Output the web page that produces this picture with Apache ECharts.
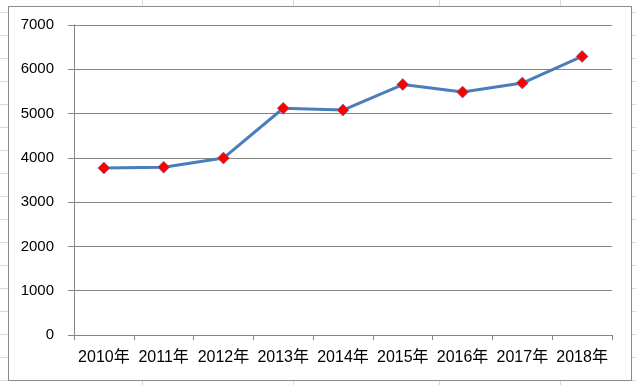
<!DOCTYPE html>
<html>
<head>
<meta charset="utf-8">
<script src="https://cdn.jsdelivr.net/npm/echarts@6/dist/echarts.min.js"></script>
<style>
  html, body { margin: 0; padding: 0; }
  body { width: 636px; height: 385px; position: relative; overflow: hidden; background: #fff; }
  #sheet {
    position: absolute; left: 0; top: 0; width: 636px; height: 385px;
    background-image:
      repeating-linear-gradient(to bottom, transparent 0px, transparent 12px, #d4dbe8 12px, #d4dbe8 13px, transparent 13px, transparent 23px);
  }
  .vl { position: absolute; top: 0; width: 1px; height: 385px; background: #d4dbe8; }
  #box {
    position: absolute; left: 8px; top: 6px; width: 622px; height: 373px;
    background: #fff; border: 1px solid #8c8c8c;
  }
  #chart { position: absolute; left: 0; top: 0; width: 636px; height: 385px; }
</style>
</head>
<body>
<div id="sheet"></div>
<div class="vl" style="left:142px"></div>
<div class="vl" style="left:293px"></div>
<div class="vl" style="left:439px"></div>
<div class="vl" style="left:560px"></div>
<div id="box"></div>
<div id="chart"></div>
<script>
const categories = ['2010年', '2011年', '2012年', '2013年', '2014年', '2015年', '2016年', '2017年', '2018年'];
const values = [3770, 3790, 3995, 5120, 5080, 5655, 5485, 5690, 6290];
const yTicks = { min: 0, max: 7000, interval: 1000 };

const chart = echarts.init(document.getElementById('chart'), null, { renderer: 'canvas' });
const fontFamily = "'Liberation Sans', 'Noto Sans CJK SC', sans-serif";
chart.setOption({
  animation: false,
  backgroundColor: 'transparent',
  grid: { left: 74, right: 24, top: 25, bottom: 50, containLabel: false },
  xAxis: {
    type: 'category',
    data: categories,
    boundaryGap: true,
    axisLine: { show: true, lineStyle: { color: '#868686', width: 1 } },
    axisTick: { show: true, length: 5, alignWithLabel: false, lineStyle: { color: '#868686' } },
    axisLabel: { color: '#000', fontSize: 16, fontFamily: fontFamily, margin: 15, interval: 0 },
    splitLine: { show: false }
  },
  yAxis: {
    type: 'value',
    min: yTicks.min, max: yTicks.max, interval: yTicks.interval,
    axisLine: { show: true, lineStyle: { color: '#868686', width: 1 } },
    axisTick: { show: true, length: 6, lineStyle: { color: '#868686' } },
    axisLabel: { color: '#000', fontSize: 15, fontFamily: fontFamily, margin: 20, formatter: function (v) { return String(v); } },
    splitLine: { show: true, lineStyle: { color: '#868686', width: 1 } }
  },
  series: [{
    type: 'line',
    data: values,
    symbol: 'diamond',
    symbolSize: 12,
    lineStyle: { color: '#4A7EBB', width: 3 },
    itemStyle: { color: '#FF0000', borderColor: '#4A7EBB', borderWidth: 0.6 }
  }]
});
</script>
</body>
</html>
